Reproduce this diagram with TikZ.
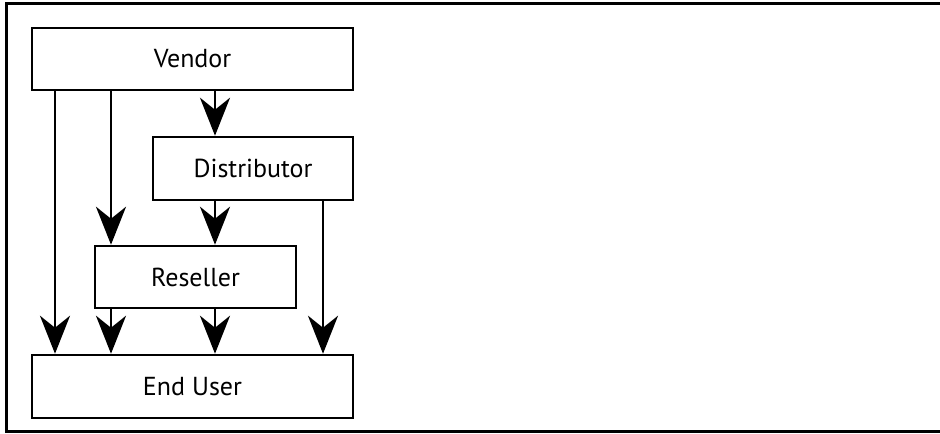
\documentclass[tikz,border=0pt]{standalone}
\usepackage{fontspec}
\setmainfont{PT Sans}
\usetikzlibrary{arrows.meta, positioning}
\tikzstyle{party} = [rectangle, draw, line width=1.25pt, inner sep=0pt, font=\fontsize{13}{15}\selectfont]
\tikzstyle{arrow} = [line width=1.25pt, -{Stealth[length=19pt, width=15pt, inset=6pt]}]

\begin{document}
\begin{tikzpicture}[x=0.5pt, y=-0.5pt]
    \useasboundingbox (0,0) rectangle (940,433);
    % Frame (open at the right)
    \draw [line width=1.5pt] (940,4) -- (6,4) -- (6,431) -- (940,431);

    % Node Position Definitions
    \node [party, minimum width=160.5pt, minimum height=31pt] (vendor) at (192.5,59) {Vendor};
    \node [party, minimum width=100pt, minimum height=31.5pt] (distributor) at (253,168.5) {Distributor};
    \node [party, minimum width=100.5pt, minimum height=31pt] (reseller) at (195.5,277) {Reseller};
    \node [party, minimum width=160.5pt, minimum height=31.5pt] (enduser) at (192.5,386.5) {End User};

    % Arrow columns
    \coordinate (colA) at (55,0);
    \coordinate (colB) at (111,0);
    \coordinate (colC) at (215,0);
    \coordinate (colD) at (323,0);

    % Connection Arrows
    \draw [arrow] (vendor.south -| colC) -- (distributor.north -| colC);
    \draw [arrow] (vendor.south -| colB) -- (reseller.north -| colB);
    \draw [arrow] (vendor.south -| colA) -- (enduser.north -| colA);
    \draw [arrow] (distributor.south -| colC) -- (reseller.north -| colC);
    \draw [arrow] (distributor.south -| colD) -- (enduser.north -| colD);
    \draw [arrow] (reseller.south -| colB) -- (enduser.north -| colB);
    \draw [arrow] (reseller.south -| colC) -- (enduser.north -| colC);
\end{tikzpicture}
\end{document}
